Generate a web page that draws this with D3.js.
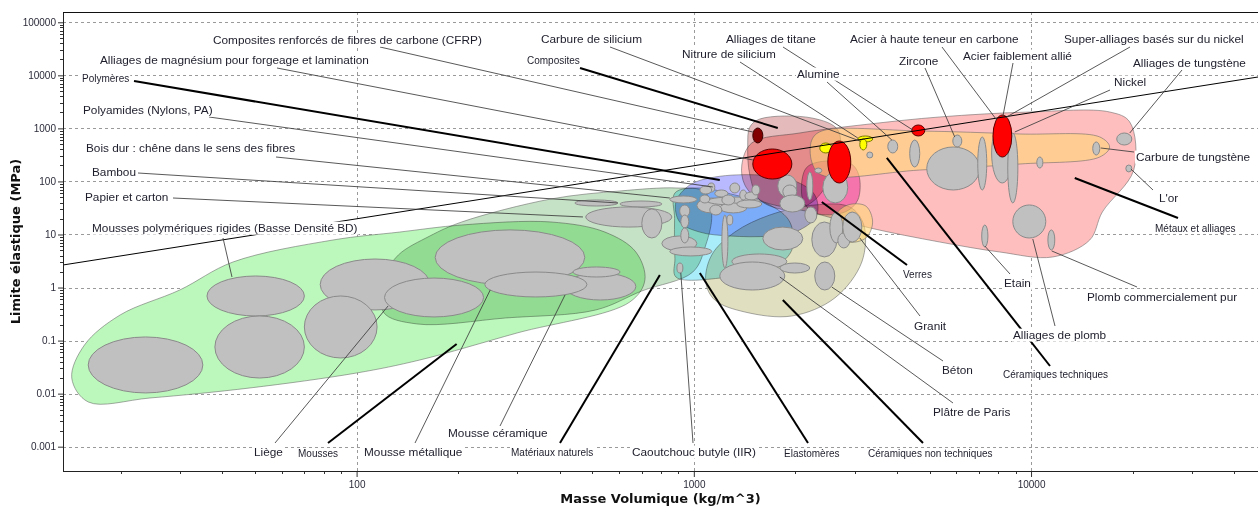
<!DOCTYPE html>
<html>
<head>
<meta charset="utf-8">
<script src="https://cdn.jsdelivr.net/npm/d3@7"></script>
<style>
  body { margin: 0; background: #fff; }
  svg { display: block; }
</style>
</head>
<body>
<svg id="chart" width="1258" height="510"></svg>
<script>
// ---------------- data ----------------
// Axis ticks
const densityTicks = [100, 1000, 10000];
const strengthTicks = [0.001, 0.01, 0.1, 1, 10, 100, 1000, 10000, 100000];
const strengthTickLabels = ["0.001", "0.01", "0.1", "1", "10", "100", "1000", "10000", "100000"];
const densityTickLabels = ["100", "1000", "10000"];

// Guide line: yield strength / density = constant (MPa per kg/m^3)
const guideRatio = 0.1975;

// Family envelopes, points as [density kg/m^3, yield strength MPa]
const foamsEnvelope = [[14.3,0.0197],[15.6,0.0826],[19.9,0.304],[29.9,0.899],[43.0,3.03],[85.1,7.87],[134,11.1],[205,15.1],[377,17.2],[545,11.1],[673,4.68],[716,1.39],[646,0.534],[299,0.139],[154,0.0431],[100,0.0245],[48.3,0.0128],[24.4,0.00828],[16.0,0.00697]];
const naturalEnvelope = [[122,1.73],[133,4.11],[165,9.37],[205,17.2],[377,46.7],[604,66.1],[885,75.3],[1079,63.2],[1130,23.3],[1085,6.34],[993,1.96],[701,0.861],[512,0.378],[277,0.267],[151,0.206],[120,0.346]];
const polymersEnvelope = [[885,41.0],[973,85.7],[1154,121],[1570,132],[1991,102],[2284,55.6],[2316,23.3],[2061,12.2],[1680,9.37],[1279,9.37],[1042,11.1],[908,17.2]];
const elastomersEnvelope = [[879,60.6],[1042,75.3],[1323,55.6],[1680,36.0],[1926,17.2],[1953,5.10],[1680,2.14],[1279,1.58],[885,1.58],[879,3.5],[876,7.87],[877,20]];
const nonTechCeramicsEnvelope = [[1085,1.27],[1130,4.11],[1323,11.1],[1680,23.3],[2284,36.0],[2901,33.0],[3192,15.1],[3149,3.03],[2618,0.635],[1953,0.291],[1417,0.346],[1154,0.582]];
const glassesEnvelope = [[2134,164],[2284,223],[2901,223],[3085,132],[3064,44.7],[2804,26.5],[2284,25.5],[2105,44.7]];
const compositesEnvelope = [[1466,1062],[1570,1503],[2238,1570],[2673,933],[2673,254],[2284,44.7],[1926,29.0],[1570,44.7],[1466,132],[1445,486]];
const metalsEnvelope = [[1388,204],[1486,531],[2061,819],[3326,1210],[5358,1641],[9910,2037],[17100,2037],[19620,1321],[20160,164],[16270,26.5],[14930,7.87],[11600,3.77],[8070,4.68],[5358,7.22],[3326,13.3],[2207,26.5],[1570,44.7],[1417,85.7]];
const techCeramicsEnvelope = [[2238,604],[2396,894],[4677,894],[9260,784],[15990,689],[17100,446],[15990,289],[9260,213],[4677,164],[2396,132],[2238,233]];
const techCeramicsEnvelope2 = [[2636,23.3],[2861,36.0],[3236,34.4],[3390,17.2],[3236,8.59],[2861,7.22],[2636,11.1]];

// Materials: [density min, density max, strength min, strength max]
const greyMaterials = [
  // foams
  [16.0,35.0,0.0103,0.117],[36,70,0.291,1.65],[38,70,0.0197,0.291],[171,475,1.12,12.2],
  [78,165,0.378,3.45],[70,115,0.047,0.693],[121,238,0.279,1.51],[415,673,0.582,1.88],
  [438,604,1.58,2.44],[240,482,0.664,1.96],
  // natural materials
  [444,595,34.4,44.7],[604,804,33.0,42.8],[478,861,13.8,33.0],[701,804,8.59,30.3],[849,1021,39.3,53.2],
  // elastomers and polymers
  [804,1021,4.89,9.37],[849,1130,3.94,5.81],[891,928,1.88,2.90],[1211,1262,2.34,23.3],
  [908,973,21.4,36.0],[915,966,13.3,23.3],[915,966,6.92,13.3],
  [1021,1253,25.5,48.7],[1093,1570,36.0,50.9],[1194,1436,25.5,39.3],[1279,1368,60.6,93.5],
  [1368,1436,44.7,69.0],[1100,1154,63.2,93.5],[1042,1130,58.0,82.0],[1154,1262,50.9,69.0],
  [1417,1549,44.7,63.2],[1341,1591,31.6,44.7],[1115,1211,23.3,36.0],[1253,1305,15.1,23.3],
  [1042,1115,39.3,55.6],[1486,1570,55.6,85.7],[1211,1323,36.0,55.6],
  // non-technical ceramics
  [1297,1887,2.24,4.29],[1194,1861,0.899,3.03],[1602,2105,5.10,13.8],[1799,2207,1.88,2.90],
  [2238,2657,3.77,17.2],[2284,2618,0.899,3.03],[2531,2765,6.92,26.5],[2673,2901,5.57,10.7],
  [2765,3149,7.22,26.5],[2134,2316,16.5,33.0],
  // metals, composites, technical ceramics
  [1774,2020,50.9,132],[1836,2020,48.7,85.7],[1799,2134,26.5,55.6],[2163,2254,44.7,151],
  [2284,2396,144,179],[2413,2861,39.3,151],[3258,3394,277,359],[3760,4024,344,604],
  [4367,4677,187,604],[5861,6233,446,750],[4906,7046,69.0,446],[6950,7390,69.0,689],
  [7640,8830,93.5,1264],[8530,9140,39.3,819],[10400,10840,179,289],[15240,15990,315,554],
  [17950,19900,486,819],[19100,19900,151,204],[8830,11060,8.59,36.0],[7140,7450,5.81,15.1],
  [11220,11760,5.10,12.2]
];
const yellowMaterials = [[2363,2566,344,531],[3064,3394,554,719],[3106,3258,392,631]];
const redMaterials = [[1496,1953,111,409],[2497,2920,93.5,578],[4430,4840,719,1159],[7710,8770,289,1789]];
const darkRedMaterials = [[1496,1602,531,1018]];

// Annotated points: [label, density, strength]
const familyTargets = [
  ["Polymères", 1194, 106],
  ["Composites", 1774, 1018],
  ["Métaux et alliages", 13480, 116],
  ["Céramiques techniques", 3735, 277],
  ["Verres", 2396, 41.0],
  ["Céramiques non techniques", 1836, 0.582],
  ["Elastomères", 1042, 1.88],
  ["Matériaux naturels", 793, 1.73],
  ["Mousses", 198, 0.0863]
];
const materialTargets = [
  ["Composites renforcés de fibres de carbone (CFRP)", 1496, 855],
  ["Alliages de magnésium pour forgeage et lamination", 1496, 254],
  ["Polyamides (Nylons, PA)", 1138, 78.7],
  ["Bois dur : chêne dans le sens des fibres", 849, 48.7],
  ["Bambou", 595, 39.3],
  ["Papier et carton", 469, 21.4],
  ["Mousses polymériques rigides (Basse Densité BD)", 42.7, 1.58],
  ["Carbure de silicium", 3106, 578],
  ["Nitrure de silicium", 3064, 659],
  ["Alliages de titane", 4460, 933],
  ["Alumine", 3866, 604],
  ["Acier à haute teneur en carbone", 7910, 1440],
  ["Zircone", 5940, 689],
  ["Acier faiblement allié", 8245, 1641],
  ["Super-alliages basés sur du nickel", 8360, 1570],
  ["Nickel", 8950, 855],
  ["Alliages de tungstène", 19620, 819],
  ["Carbure de tungstène", 16100, 427],
  ["L'or", 19760, 172],
  ["Etain", 7290, 6.07],
  ["Plomb commercialement pur", 11520, 4.89],
  ["Alliages de plomb", 10120, 8.22],
  ["Granit", 3106, 8.59],
  ["Béton", 2566, 1.02],
  ["Plâtre de Paris", 1799, 1.58],
  ["Caoutchouc butyle (IIR)", 915, 1.88],
  ["Mousse céramique", 415, 0.724],
  ["Mousse métallique", 249, 0.899],
  ["Liège", 124, 0.449]
];

// ---------------- layout ----------------
const W = 1258, H = 510;
const plot = { left: 63, right: 1258, top: 12, bottom: 471 };

// label placement: [text left x, text centre y, leader start x, leader start y]
const labelLayout = {
  "Polymères": [82, 78, 134, 81],
  "Composites": [527, 60, 580, 68],
  "Métaux et alliages": [1155, 228, 1178, 218],
  "Céramiques techniques": [1003, 374, 1050, 366],
  "Verres": [903, 274, 907, 265],
  "Céramiques non techniques": [868, 453, 923, 443],
  "Elastomères": [784, 453, 808, 443],
  "Matériaux naturels": [511, 452, 560, 443],
  "Mousses": [298, 453, 328, 443],
  "Composites renforcés de fibres de carbone (CFRP)": [213, 40, 380, 47],
  "Alliages de magnésium pour forgeage et lamination": [100, 60, 277, 68],
  "Polyamides (Nylons, PA)": [83, 110, 209, 117],
  "Bois dur : chêne dans le sens des fibres": [86, 148, 276, 157],
  "Bambou": [92, 172, 138, 173],
  "Papier et carton": [85, 197, 173, 198],
  "Mousses polymériques rigides (Basse Densité BD)": [92, 228, 223, 238],
  "Carbure de silicium": [541, 39, 610, 47],
  "Nitrure de silicium": [682, 54, 740, 62],
  "Alliages de titane": [726, 39, 783, 47],
  "Alumine": [797, 74, 827, 82],
  "Acier à haute teneur en carbone": [850, 39, 942, 47],
  "Zircone": [899, 61, 925, 68],
  "Acier faiblement allié": [963, 56, 1013, 63],
  "Super-alliages basés sur du nickel": [1064, 39, 1130, 47],
  "Nickel": [1114, 82, 1110, 90],
  "Alliages de tungstène": [1133, 63, 1182, 70],
  "Carbure de tungstène": [1136, 157, 1134, 152],
  "L'or": [1159, 198, 1153, 190],
  "Etain": [1004, 283, 1010, 274],
  "Plomb commercialement pur": [1087, 297, 1137, 287],
  "Alliages de plomb": [1013, 335, 1055, 326],
  "Granit": [914, 326, 920, 316],
  "Béton": [942, 370, 943, 361],
  "Plâtre de Paris": [933, 412, 953, 403],
  "Caoutchouc butyle (IIR)": [632, 452, 693, 443],
  "Mousse céramique": [448, 433, 500, 426],
  "Mousse métallique": [364, 452, 415, 443],
  "Liège": [254, 452, 275, 443]
};

const familyStyle = {
  foams:        { fill: "#bcf8bc", blend: "multiply" },
  natural:      { fill: "#c6e2c6", blend: "multiply" },
  polymers:     { fill: "#b9b9ff", blend: "multiply" },
  elastomers:   { fill: "#aaedfa", blend: "multiply" },
  nonTech:      { fill: "#e0dfbf", blend: "multiply" },
  glasses:      { fill: "#f49be6", blend: "multiply" },
  composites:   { fill: "#e4baba", blend: "multiply" },
  metals:       { fill: "#ffbebe", blend: "multiply" },
  techCeramics: { fill: "rgba(255,214,118,0.58)", blend: "normal" }
};

// ---------------- scales ----------------
const x = d3.scaleLog().domain([13.47, 47100]).range([plot.left, plot.right]);
const y = d3.scaleLog().domain([3.48e-4, 1.563e5]).range([plot.bottom, plot.top]);

const svg = d3.select("#chart");
svg.append("rect").attr("width", W).attr("height", H).attr("fill", "#fff");

svg.append("defs").append("clipPath").attr("id", "plotClip")
  .append("rect")
  .attr("x", plot.left).attr("y", plot.top)
  .attr("width", plot.right - plot.left).attr("height", plot.bottom - plot.top);

// ---------------- grid ----------------
const grid = svg.append("g").attr("shape-rendering", "crispEdges")
  .attr("stroke", "#9a9a9a").attr("stroke-dasharray", "3,3").attr("stroke-width", 1);
grid.selectAll("line.h").data(strengthTicks).join("line").attr("class", "h")
  .attr("x1", plot.left).attr("x2", plot.right)
  .attr("y1", d => Math.round(y(d)) + 0.5).attr("y2", d => Math.round(y(d)) + 0.5);
grid.selectAll("line.v").data(densityTicks).join("line").attr("class", "v")
  .attr("y1", plot.top).attr("y2", plot.bottom)
  .attr("x1", d => Math.round(x(d)) + 0.5).attr("x2", d => Math.round(x(d)) + 0.5);

// ---------------- family envelopes ----------------
const area = d3.line()
  .x(d => x(d[0])).y(d => y(d[1]))
  .curve(d3.curveCatmullRomClosed.alpha(0.5));

const plotArea = svg.append("g").attr("clip-path", "url(#plotClip)");
const envG = plotArea.append("g");
const envelopeList = [
  [foamsEnvelope, "foams"],
  [naturalEnvelope, "natural"],
  [nonTechCeramicsEnvelope, "nonTech"],
  [polymersEnvelope, "polymers"],
  [elastomersEnvelope, "elastomers"],
  [metalsEnvelope, "metals"],
  [compositesEnvelope, "composites"],
  [glassesEnvelope, "glasses"],
  [techCeramicsEnvelope2, "techCeramics"],
  [techCeramicsEnvelope, "techCeramics"]
];
envG.selectAll("path").data(envelopeList).join("path")
  .attr("d", d => area(d[0]))
  .attr("fill", d => familyStyle[d[1]].fill)
  .style("mix-blend-mode", d => familyStyle[d[1]].blend)
  .attr("stroke", "rgba(100,100,100,0.55)")
  .attr("stroke-width", 1);

// ---------------- material bubbles ----------------
function ellipseAttrs(sel) {
  sel.attr("cx", d => (x(d[0]) + x(d[1])) / 2)
     .attr("cy", d => (y(d[2]) + y(d[3])) / 2)
     .attr("rx", d => Math.max(1.5, (x(d[1]) - x(d[0])) / 2))
     .attr("ry", d => Math.max(1.5, (y(d[2]) - y(d[3])) / 2));
}
const bub = plotArea.append("g");
bub.append("g").selectAll("ellipse").data(greyMaterials).join("ellipse")
  .call(ellipseAttrs).attr("fill", "#c0c0c0").attr("stroke", "#8a8a8a").attr("stroke-width", 1);
bub.append("g").selectAll("ellipse").data(yellowMaterials).join("ellipse")
  .call(ellipseAttrs).attr("fill", "#ffff00").attr("stroke", "#7a7a00").attr("stroke-width", 1);
bub.append("g").selectAll("ellipse").data(redMaterials).join("ellipse")
  .call(ellipseAttrs).attr("fill", "#ff0000").attr("stroke", "#5a0000").attr("stroke-width", 1);
bub.append("g").selectAll("ellipse").data(darkRedMaterials).join("ellipse")
  .call(ellipseAttrs).attr("fill", "#820000").attr("stroke", "#3a0000").attr("stroke-width", 1);

// ---------------- guide line ----------------
const guideDomain = x.domain();
plotArea.append("line")
  .attr("x1", x(guideDomain[0])).attr("y1", y(guideDomain[0] * guideRatio))
  .attr("x2", x(guideDomain[1])).attr("y2", y(guideDomain[1] * guideRatio))
  .attr("stroke", "#000").attr("stroke-width", 1);

// ---------------- leaders ----------------
const leaders = svg.append("g");
materialTargets.forEach(([name, rho, sig]) => {
  const L = labelLayout[name];
  leaders.append("line")
    .attr("x1", L[2]).attr("y1", L[3]).attr("x2", x(rho)).attr("y2", y(sig))
    .attr("stroke", "#3c3c3c").attr("stroke-width", 1).attr("stroke-opacity", 0.85);
});
familyTargets.forEach(([name, rho, sig]) => {
  const L = labelLayout[name];
  leaders.append("line")
    .attr("x1", L[2]).attr("y1", L[3]).attr("x2", x(rho)).attr("y2", y(sig))
    .attr("stroke", "#000").attr("stroke-width", 2);
});

// ---------------- labels ----------------
const labels = svg.append("g");
function addLabel(name, size) {
  const L = labelLayout[name];
  const g = labels.append("g");
  const t = g.append("text")
    .attr("x", L[0]).attr("y", L[1]).attr("dy", "0.35em")
    .attr("font-family", "'Liberation Sans', Arial, sans-serif")
    .attr("font-size", size).attr("fill", "#1d1d2b")
    .text(name);
  const bb = t.node().getBBox();
  g.insert("rect", "text")
    .attr("x", bb.x - 1).attr("y", bb.y + 0.5)
    .attr("width", bb.width + 2).attr("height", bb.height - 1)
    .attr("fill", "#fff");
}
materialTargets.forEach(d => addLabel(d[0], 11.8));
familyTargets.forEach(d => addLabel(d[0], 10));

// ---------------- axes ----------------
const axisFont = "'Liberation Sans', Arial, sans-serif";
const axes = svg.append("g");

// minor ticks
const yMinor = y.ticks().filter(v => v >= 0.001 * 0.999 && !strengthTicks.some(t => Math.abs(t - v) / t < 1e-6));
axes.append("g").selectAll("line").data(yMinor).join("line")
  .attr("x1", plot.left - 3).attr("x2", plot.left)
  .attr("y1", d => Math.round(y(d)) + 0.5).attr("y2", d => Math.round(y(d)) + 0.5)
  .attr("stroke", "#333");
const xMinor = x.ticks().filter(v => !densityTicks.some(t => Math.abs(t - v) / t < 1e-6));
axes.append("g").selectAll("line").data(xMinor).join("line")
  .attr("y1", plot.bottom).attr("y2", plot.bottom + 3)
  .attr("x1", d => Math.round(x(d)) + 0.5).attr("x2", d => Math.round(x(d)) + 0.5)
  .attr("stroke", "#333");

const yAxis = d3.axisLeft(y).tickValues(strengthTicks)
  .tickFormat((d, i) => strengthTickLabels[i]).tickSize(5).tickPadding(2);
const yG = axes.append("g").attr("transform", `translate(${plot.left},0)`).call(yAxis);
yG.select(".domain").remove();
yG.selectAll("text").attr("font-family", axisFont).attr("font-size", 10).attr("fill", "#2b2b3a");
yG.selectAll("line").attr("stroke", "#333");

const xAxis = d3.axisBottom(x).tickValues(densityTicks)
  .tickFormat((d, i) => densityTickLabels[i]).tickSize(6).tickPadding(4);
const xG = axes.append("g").attr("transform", `translate(0,${plot.bottom})`).call(xAxis);
xG.select(".domain").remove();
xG.selectAll("text").attr("font-family", axisFont).attr("font-size", 10).attr("fill", "#2b2b3a");
xG.selectAll("line").attr("stroke", "#333");

// frame lines
axes.append("line").attr("x1", plot.left + 0.5).attr("x2", plot.left + 0.5)
  .attr("y1", plot.top).attr("y2", plot.bottom + 0.5).attr("stroke", "#222");
axes.append("line").attr("x1", plot.left).attr("x2", plot.right)
  .attr("y1", plot.bottom + 0.5).attr("y2", plot.bottom + 0.5).attr("stroke", "#222");
axes.append("line").attr("x1", plot.left).attr("x2", plot.right)
  .attr("y1", plot.top + 0.5).attr("y2", plot.top + 0.5).attr("stroke", "#111").attr("stroke-width", 1.2);

// axis titles
svg.append("text")
  .attr("x", (plot.left + plot.right) / 2).attr("y", 498).attr("dy", "0.35em")
  .attr("text-anchor", "middle")
  .attr("font-family", "'DejaVu Sans', Verdana, sans-serif").attr("font-weight", "bold")
  .attr("font-size", 13).attr("fill", "#111")
  .text("Masse Volumique (kg/m^3)");
svg.append("text")
  .attr("transform", `translate(15,${(plot.top + plot.bottom) / 2}) rotate(-90)`)
  .attr("dy", "0.35em").attr("text-anchor", "middle")
  .attr("font-family", "'DejaVu Sans', Verdana, sans-serif").attr("font-weight", "bold")
  .attr("font-size", 13).attr("fill", "#111")
  .text("Limite élastique (MPa)");
</script>
</body>
</html>
